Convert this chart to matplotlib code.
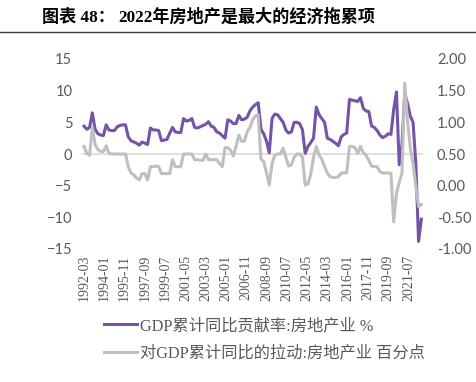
import numpy as np
import matplotlib
matplotlib.use("Agg")
import matplotlib.pyplot as plt
from matplotlib.lines import Line2D
from matplotlib.font_manager import FontProperties

plt.rcParams['font.family'] = ['Lato', 'Noto Sans CJK SC', 'DejaVu Sans']

# 季度数据 1992Q1 - 2022Q3 (每行一年)
# GDP累计同比贡献率:房地产业 %  (左轴)
contrib_rate = [
    4.4, 3.9, 4.2, 6.5,   # 1992
    3.9, 3.2, 3.0, 2.9,   # 1993
    4.6, 3.8, 3.7, 3.7,   # 1994
    4.3, 4.5, 4.6, 4.6,   # 1995
    2.7, 2.1, 1.9, 1.7,   # 1996
    1.4, 1.9, 1.7, 1.5,   # 1997
    4.1, 3.8, 3.8, 3.7,   # 1998
    2.1, 2.2, 2.3, 3.3,   # 1999
    4.2, 3.5, 3.4, 3.4,   # 2000
    5.6, 5.2, 5.3, 5.6,   # 2001
    4.2, 4.1, 4.3, 4.5,   # 2002
    4.7, 5.1, 4.4, 4.2,   # 2003
    3.5, 3.3, 2.9, 2.5,   # 2004
    5.4, 5.2, 4.8, 4.8,   # 2005
    6.1, 5.4, 5.5, 5.8,   # 2006
    6.8, 7.4, 7.8, 8.1,   # 2007
    3.9, 3.2, 2.0, 0.2,   # 2008
    5.6, 6.3, 6.2, 5.6,   # 2009
    5.0, 3.8, 3.3, 3.5,   # 2010
    5.0, 5.0, 4.8, 3.8,   # 2011
    0.1, 1.2, 1.8, 2.5,   # 2012
    7.4, 6.2, 5.6, 5.0,   # 2013
    2.5, 2.3, 2.0, 1.7,   # 2014
    1.3, 2.7, 3.1, 3.3,   # 2015
    8.6, 8.5, 8.4, 8.3,   # 2016
    8.9, 7.2, 6.8, 6.7,   # 2017
    4.4, 4.2, 3.7, 3.0,   # 2018
    2.6, 2.8, 3.2, 3.1,   # 2019
    7.0, 9.8, -1.7, 1.5,  # 2020
    9.5, 8.0, 6.0, 5.0,   # 2021
    -1.5, -13.8, -10.3,   # 2022
]

# 对GDP累计同比的拉动:房地产业 百分点  (右轴)
pull = [
    0.62, 0.51, 0.48, 0.92,   # 1992
    0.65, 0.57, 0.54, 0.54,   # 1993
    0.63, 0.51, 0.50, 0.50,   # 1994
    0.50, 0.50, 0.50, 0.50,   # 1995
    0.30, 0.20, 0.17, 0.12,   # 1996
    0.09, 0.19, 0.19, 0.09,   # 1997
    0.30, 0.30, 0.31, 0.30,   # 1998
    0.19, 0.19, 0.19, 0.19,   # 1999
    0.41, 0.30, 0.30, 0.30,   # 2000
    0.50, 0.50, 0.50, 0.50,   # 2001
    0.41, 0.41, 0.40, 0.40,   # 2002
    0.50, 0.41, 0.41, 0.41,   # 2003
    0.41, 0.35, 0.30, 0.60,   # 2004
    0.60, 0.56, 0.47, 0.62,   # 2005
    0.80, 0.70, 0.70, 0.85,   # 2006
    0.92, 1.04, 1.10, 1.12,   # 2007
    0.42, 0.38, 0.20, 0.01,   # 2008
    0.35, 0.48, 0.50, 0.50,   # 2009
    0.59, 0.45, 0.31, 0.33,   # 2010
    0.45, 0.50, 0.50, 0.45,   # 2011
    0.01, 0.03, 0.18, 0.45,   # 2012
    0.62, 0.48, 0.42, 0.30,   # 2013
    0.20, 0.14, 0.13, 0.13,   # 2014
    0.14, 0.20, 0.20, 0.20,   # 2015
    0.62, 0.62, 0.60, 0.51,   # 2016
    0.62, 0.52, 0.48, 0.40,   # 2017
    0.31, 0.30, 0.30, 0.22,   # 2018
    0.20, 0.20, 0.20, 0.20,   # 2019
    -0.57, -0.12, 0.05, 0.20,  # 2020
    1.62, 1.02, 0.60, 0.35,   # 2021
    0.00, -0.33, -0.30,       # 2022
]

label_rate = "GDP累计同比贡献率:房地产业 %"
label_pull = "对GDP累计同比的拉动:房地产业 百分点"

start_year, start_month = 1992, 3
months = np.arange(len(contrib_rate)) * 3  # 以月为单位的位置

tick_pos = np.arange(0, months[-1] + 1, 22)
tick_labels = [f"{start_year + (start_month - 1 + m) // 12}-{(start_month - 1 + m) % 12 + 1:02d}"
               for m in tick_pos]

purple = '#7553A7'
grey = '#BFBFBF'
txt = '#595959'

fig = plt.figure(figsize=(4.76, 3.82), dpi=100)

# 标题
title_font = FontProperties(family=['Liberation Serif', 'Noto Sans CJK SC'], weight='bold', size=12.3)
fig.text(42 / 476, 1 - 17 / 382, "图表 48：", fontproperties=title_font, va='center', ha='left')
fig.text(118 / 476, 1 - 17 / 382, "2022年房地产是最大的经济拖累项", fontproperties=title_font,
         va='center', ha='left')
fig.add_artist(Line2D([0, 1], [1 - 31.5 / 382, 1 - 31.5 / 382], color='#404040', lw=1))

ax = fig.add_axes([82 / 476, 133 / 382, 341 / 476, 190 / 382])
ax.axhline(0, color='#D9D9D9', lw=1.2, zorder=0)
ax.plot(months, contrib_rate, color=purple, lw=2.2, solid_joinstyle='round')
ax.set_ylim(-15, 15)
ax.set_yticks(range(-15, 16, 5))
ax.set_xlim(-2.2, months[-1] + 1.8)
ax.set_xticks(tick_pos)
ax.set_xticklabels(tick_labels, rotation=90, family='Liberation Serif', fontsize=10, color=txt)
for lab in ax.get_yticklabels():
    lab.set_fontsize(10.5)
    lab.set_color(txt)
ax.tick_params(axis='x', length=0, pad=4)
ax.tick_params(axis='y', length=0, pad=7)

ax2 = ax.twinx()
ax2.plot(months, pull, color=grey, lw=2.2, solid_joinstyle='round')
ax2.set_ylim(-1, 2)
r_ticks = np.arange(-1, 2.01, 0.5)
ax2.set_yticks(r_ticks)
ax2.set_yticklabels([f"{v:.2f}" for v in r_ticks], fontsize=10.5, color=txt)
ax2.tick_params(axis='y', length=0, pad=10)

for a in (ax, ax2):
    for s in a.spines.values():
        s.set_visible(False)

handles = [Line2D([], [], color=purple, lw=2.2), Line2D([], [], color=grey, lw=2.2)]
leg_font = FontProperties(family=['Liberation Serif', 'Noto Sans CJK SC'], size=11.7)
fig.legend(handles, [label_rate, label_pull], loc='upper left',
           bbox_to_anchor=(104 / 476, 1 - 318 / 382), frameon=False, prop=leg_font,
           handlelength=2.0, handletextpad=0.2, labelspacing=0.7, borderpad=0,
           borderaxespad=0, labelcolor=txt)

fig.savefig("out.png", dpi=100)
